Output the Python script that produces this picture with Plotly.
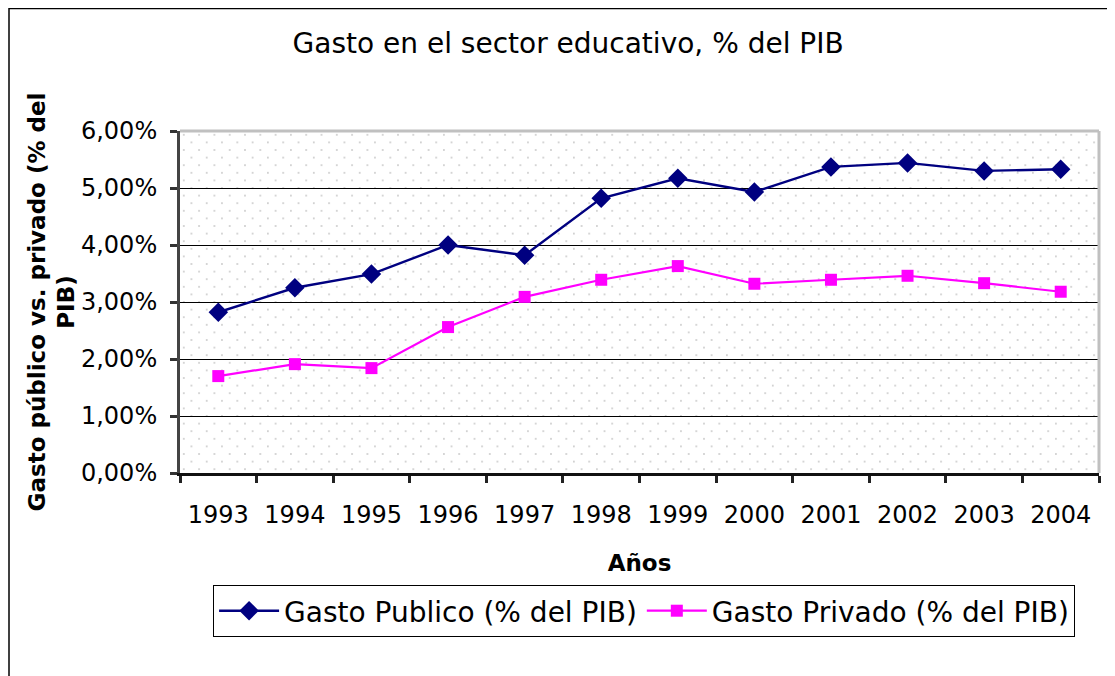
import plotly.graph_objects as go
import base64

years = ["1993", "1994", "1995", "1996", "1997", "1998", "1999", "2000", "2001", "2002", "2003", "2004"]
gasto_publico = [0.0282, 0.0325, 0.0349, 0.0400, 0.0382, 0.0482, 0.0517, 0.0493, 0.0537, 0.0544, 0.0530, 0.0533]
gasto_privado = [0.0170, 0.0191, 0.0184, 0.0256, 0.0309, 0.0339, 0.0363, 0.0332, 0.0339, 0.0346, 0.0333, 0.0318]
y_ticks = [0, 0.01, 0.02, 0.03, 0.04, 0.05, 0.06]

FONT = "DejaVu Sans"

W, H = 1107, 668
L, R, T, B = 172, 16, 123, 203
PW, PH = W - L - R, H - T - B

svg = ('<svg xmlns="http://www.w3.org/2000/svg" width="%d" height="%d">'
       '<defs><pattern id="p" width="15.3" height="15.2" patternUnits="userSpaceOnUse">'
       '<rect x="3" y="3" width="1.6" height="1.6" fill="#c4c4c4"/>'
       '<rect x="10.6" y="10.6" width="1.6" height="1.6" fill="#c4c4c4"/>'
       '</pattern></defs><rect width="%d" height="%d" fill="url(#p)"/></svg>') % (PW, PH, PW, PH)
src = "data:image/svg+xml;base64," + base64.b64encode(svg.encode()).decode()

fig = go.Figure()
fig.add_trace(go.Scatter(
    x=years, y=gasto_publico, mode="lines+markers", name="Gasto Publico (% del PIB)",
    line=dict(color="#000080", width=2.4),
    marker=dict(symbol="diamond", size=15, color="#000080"),
))
fig.add_trace(go.Scatter(
    x=years, y=gasto_privado, mode="lines+markers", name="Gasto Privado (% del PIB)",
    line=dict(color="#FF00FF", width=2.2),
    marker=dict(symbol="square", size=12, color="#FF00FF"),
))

fx = -L / PW            # paper x of figure left edge
fy = 1 + T / PH         # paper y of figure top edge

fig.update_layout(
    width=W, height=H,
    margin=dict(l=L, r=R, t=T, b=B, autoexpand=False),
    paper_bgcolor="white", plot_bgcolor="white",
    separators=",.",
    font=dict(family=FONT, size=24, color="black"),
    title=dict(text="Gasto en el sector educativo, % del PIB", x=0.506, xanchor="center",
               y=1 - 35 / H, yanchor="middle", font=dict(size=28, family=FONT, color="black")),
    xaxis=dict(
        type="category", tickson="boundaries", ticks="outside", ticklen=7, tickwidth=3,
        tickcolor="#222", showline=True, linecolor="#111", linewidth=3, showgrid=False,
        tickfont=dict(size=24), range=[-0.5, 11.5], ticklabelstandoff=18,
        title=dict(text="<b>Años</b>", font=dict(size=23), standoff=28),
        automargin=False,
    ),
    yaxis=dict(
        range=[0, 0.06], tickvals=y_ticks, tickformat=".2%", ticks="outside", ticklen=7,
        tickwidth=3, tickcolor="#333", showline=True, linecolor="#444", linewidth=3,
        showgrid=True, gridcolor="black", gridwidth=1, zeroline=False,
        tickfont=dict(size=24), ticklabelstandoff=8,
        title=dict(text="<b>Gasto público vs. privado (% del<br>PIB)</b>", font=dict(size=23), standoff=0),
        automargin=False,
    ),
    legend=dict(orientation="h", x=0.036, xanchor="left", y=-0.3275, yanchor="top",
                bordercolor="black", borderwidth=1, font=dict(size=28),
                itemwidth=60, tracegroupgap=0),
    images=[dict(source=src, xref="paper", yref="paper", x=0, y=1, sizex=1, sizey=1,
                 sizing="stretch", layer="below", xanchor="left", yanchor="top")],
    shapes=[
        dict(type="line", xref="paper", yref="paper", x0=0, x1=1, y0=1, y1=1,
             line=dict(color="#c0c0c0", width=3)),
        dict(type="line", xref="paper", yref="paper", x0=1, x1=1, y0=0, y1=1,
             line=dict(color="#c0c0c0", width=3)),
        dict(type="line", xref="paper", yref="paper", x0=fx + 1 / PW, x1=1.1,
             y0=fy - 0.5 / PH, y1=fy - 0.5 / PH, line=dict(color="black", width=1.5)),
        dict(type="line", xref="paper", yref="paper", x0=fx + 1 / PW, x1=fx + 1 / PW,
             y0=fy, y1=-1, line=dict(color="black", width=1.5)),
    ],
    showlegend=True,
)

fig.write_html("out.html")
